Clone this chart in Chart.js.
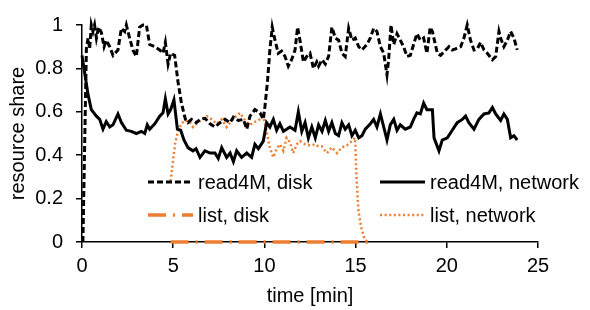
<!DOCTYPE html>
<html>
<head>
<meta charset="utf-8">
<script src="https://cdn.jsdelivr.net/npm/chart.js@4.4.1/dist/chart.umd.min.js"></script>
<style>
  html, body { margin: 0; padding: 0; background: #fff; }
  #wrap { width: 590px; height: 310px; }
</style>
</head>
<body>
<div id="wrap"><canvas id="chart" width="590" height="310"></canvas></div>
<script>
// time in minutes, share 0..1
const diskTime = [0.05, 0.24, 0.33, 0.42, 0.51, 0.60, 0.69, 0.79, 0.91, 1.06, 1.21, 1.33, 1.52, 1.70, 1.97,
  2.16, 2.34, 2.43, 2.61, 2.79, 2.98, 3.16, 3.34, 3.53, 3.71, 3.99, 4.26, 4.44, 4.57, 4.72, 4.86, 5.08,
  5.26, 5.45, 5.67, 5.81, 6.00, 6.27, 6.47, 6.74, 7.02, 7.29, 7.57, 7.84, 8.12, 8.30, 8.57, 8.85, 9.03,
  9.21, 9.48, 9.76, 9.94, 10.03, 10.17, 10.30, 10.43, 10.58, 10.76, 10.94, 11.13, 11.31, 11.49, 11.68,
  11.82, 11.95, 12.14, 12.32, 12.50, 12.69, 12.87, 12.97, 13.16, 13.34, 13.52, 13.70, 13.89, 14.07,
  14.25, 14.43, 14.62, 14.80, 14.98, 15.17, 15.35, 15.62, 15.81, 15.99, 16.17, 16.36, 16.54, 16.72,
  16.81, 16.94, 17.09, 17.27, 17.45, 17.63, 17.82, 18.00, 18.18, 18.36, 18.55, 18.73, 18.91, 19.09,
  19.21, 19.48, 19.66, 19.94, 20.12, 20.30, 20.48, 20.76, 20.94, 21.12, 21.30, 21.49, 21.67, 21.85,
  22.04, 22.22, 22.50, 22.68, 22.86, 22.95, 23.13, 23.32, 23.50, 23.68, 23.86];
const diskShare = [0.0, 0.89, 0.94, 0.89, 1.0, 0.97, 1.0, 0.94, 0.99, 0.965, 0.90, 0.93, 0.90, 0.86, 0.885,
  0.985, 0.97, 1.0, 0.94, 0.885, 0.855, 0.99, 1.0, 1.0, 0.91, 0.90, 0.885, 0.87, 0.92, 0.82, 0.87, 0.86,
  0.74, 0.64, 0.565, 0.55, 0.565, 0.55, 0.565, 0.57, 0.545, 0.53, 0.55, 0.565, 0.55, 0.575, 0.56, 0.565, 0.52,
  0.58, 0.61, 0.595, 0.565, 0.625, 0.74, 0.885, 0.99, 0.93, 0.87, 0.88, 0.855, 0.81, 0.84, 0.885,
  0.99, 0.93, 0.83, 0.855, 0.87, 0.80, 0.83, 0.81, 0.84, 0.82, 0.855, 0.99, 0.94, 0.93,
  0.87, 0.855, 0.985, 0.93, 0.94, 0.90, 0.885, 0.91, 0.94, 0.985, 0.97, 0.90, 0.87, 0.77,
  0.84, 1.0, 0.91, 0.96, 0.93, 0.90, 0.855, 0.86, 0.91, 0.96, 0.93, 0.94, 0.87, 0.99,
  0.97, 0.87, 0.86, 0.885, 0.90, 0.885, 0.89, 0.90, 0.94, 1.0, 0.93, 0.885, 0.89, 0.92,
  0.885, 0.87, 0.84, 0.855, 0.97, 0.94, 0.90, 0.93, 0.97, 0.94, 0.885];

const netTime = [0.00, 0.33, 0.51, 0.79, 0.97, 1.15, 1.33, 1.52, 1.70, 1.97, 2.16, 2.43, 2.70, 2.98, 3.25,
  3.44, 3.58, 3.71, 3.99, 4.26, 4.44, 4.57, 4.72, 4.86, 5.04, 5.23, 5.41, 5.59, 5.81, 6.08, 6.25, 6.47,
  6.74, 7.02, 7.29, 7.47, 7.66, 7.93, 8.12, 8.30, 8.48, 8.75, 9.03, 9.30, 9.48, 9.67, 9.94, 10.12,
  10.30, 10.49, 10.67, 10.85, 11.04, 11.22, 11.40, 11.68, 11.86, 12.05, 12.23, 12.41, 12.60, 12.79,
  12.97, 13.16, 13.34, 13.52, 13.70, 13.89, 14.07, 14.25, 14.43, 14.62, 14.80, 14.98, 15.17, 15.35,
  15.53, 15.81, 15.99, 16.17, 16.36, 16.54, 16.72, 16.90, 17.09, 17.27, 17.45, 17.72, 18.00, 18.18,
  18.36, 18.55, 18.73, 18.91, 19.09, 19.21, 19.30, 19.57, 19.75, 20.03, 20.30, 20.57, 20.85, 21.03,
  21.21, 21.49, 21.76, 22.04, 22.31, 22.50, 22.68, 22.95, 23.13, 23.32, 23.50, 23.68, 23.86];
const netShare = [0.86, 0.68, 0.61, 0.58, 0.565, 0.52, 0.555, 0.53, 0.54, 0.59, 0.55, 0.515, 0.51, 0.50, 0.51,
  0.50, 0.54, 0.52, 0.545, 0.58, 0.595, 0.66, 0.59, 0.61, 0.655, 0.52, 0.515, 0.47, 0.435, 0.42, 0.43, 0.39,
  0.42, 0.41, 0.41, 0.385, 0.435, 0.39, 0.41, 0.37, 0.42, 0.39, 0.41, 0.39, 0.45, 0.43, 0.465, 0.55,
  0.53, 0.565, 0.515, 0.545, 0.51, 0.52, 0.53, 0.515, 0.60, 0.51, 0.55, 0.48, 0.53, 0.48,
  0.54, 0.51, 0.56, 0.51, 0.55, 0.50, 0.49, 0.55, 0.52, 0.54, 0.49, 0.515, 0.48, 0.49,
  0.52, 0.545, 0.565, 0.53, 0.59, 0.53, 0.47, 0.54, 0.565, 0.515, 0.54, 0.52, 0.53, 0.565,
  0.595, 0.59, 0.64, 0.61, 0.61, 0.61, 0.48, 0.42, 0.47, 0.48, 0.515, 0.55, 0.565, 0.58,
  0.55, 0.52, 0.565, 0.59, 0.595, 0.62, 0.59, 0.56, 0.59, 0.565, 0.48, 0.49, 0.47];

const listTime = [4.86, 4.97, 5.10, 5.26, 5.45, 5.63, 5.90, 6.08, 6.27, 6.56, 6.84, 7.11, 7.38, 7.66, 7.93,
  8.12, 8.39, 8.66, 8.94, 9.21, 9.39, 9.67, 9.94, 10.12, 10.30, 10.49, 10.67, 10.85, 11.04, 11.22, 11.40,
  11.58, 11.77, 11.95, 12.23, 12.50, 12.78, 12.97, 13.16, 13.43, 13.70, 13.98, 14.25, 14.52, 14.80,
  14.97, 15.05, 15.15, 15.30, 15.50, 15.70];
const listNetShare = [0.28, 0.36, 0.45, 0.51, 0.545, 0.56, 0.555, 0.53, 0.545, 0.565, 0.58, 0.565, 0.545, 0.565, 0.53,
  0.55, 0.575, 0.595, 0.56, 0.54, 0.55, 0.56, 0.58, 0.51, 0.435, 0.39, 0.43, 0.45, 0.42, 0.48, 0.46,
  0.41, 0.45, 0.465, 0.45, 0.445, 0.45, 0.44, 0.44, 0.41, 0.436, 0.41, 0.436, 0.445, 0.465,
  0.48, 0.30, 0.15, 0.07, 0.01, 0.0];
const listDiskShare = [0, 0, 0, 0, 0, 0, 0, 0, 0, 0, 0, 0, 0, 0, 0,
  0, 0, 0, 0, 0, 0, 0, 0, 0, 0, 0, 0, 0, 0, 0, 0,
  0, 0, 0, 0, 0, 0, 0, 0, 0, 0, 0, 0, 0, 0,
  0, 0, 0, 0, 0, 0];

const xTicks = [0, 5, 10, 15, 20, 25];
const yTicks = [0, 0.2, 0.4, 0.6, 0.8, 1];

const FONT = { family: '"Liberation Sans", Arial, Helvetica, sans-serif', size: 20 };
const ORANGE = '#ED7D31';

function pairs(xs, ys) {
  return xs.map((x, i) => ({ x: x, y: ys[i] }));
}

// legend sits inside the plot, two columns, no box
const insideLegend = {
  id: 'insideLegend',
  afterDatasetsDraw(chart) {
    const ctx = chart.ctx;
    const slots = [[148, 182], [380, 182], [148, 215], [380, 215]];
    chart.data.datasets.forEach((ds, i) => {
      const x = slots[i][0], y = slots[i][1];
      ctx.save();
      ctx.strokeStyle = ds.borderColor;
      ctx.lineWidth = ds.borderWidth;
      ctx.setLineDash(ds.borderDash || []);
      ctx.beginPath();
      ctx.moveTo(x, y);
      ctx.lineTo(x + 45, y);
      ctx.stroke();
      ctx.setLineDash([]);
      ctx.fillStyle = '#000';
      ctx.font = FONT.size + 'px ' + FONT.family;
      ctx.textBaseline = 'middle';
      ctx.fillText(ds.label, x + 50, y + 1);
      ctx.restore();
    });
  }
};

const lineBase = { pointRadius: 0, tension: 0, fill: false, clip: false };

new Chart(document.getElementById('chart'), {
  type: 'line',
  data: {
    datasets: [
      Object.assign({ label: 'read4M, disk', data: pairs(diskTime, diskShare),
        borderColor: '#000', borderWidth: 3, borderDash: [6, 3] }, lineBase),
      Object.assign({ label: 'read4M, network', data: pairs(netTime, netShare),
        borderColor: '#000', borderWidth: 3 }, lineBase),
      Object.assign({ label: 'list, disk', data: pairs(listTime, listDiskShare),
        borderColor: ORANGE, borderWidth: 3.5, borderDash: [18, 7, 2, 7] }, lineBase),
      Object.assign({ label: 'list, network', data: pairs(listTime, listNetShare),
        borderColor: ORANGE, borderWidth: 2.5, borderDash: [2, 2.6] }, lineBase)
    ]
  },
  options: {
    responsive: false,
    animation: false,
    layout: { padding: { left: 0, top: 12, right: 52, bottom: 0 } },
    plugins: { legend: { display: false }, tooltip: { enabled: false } },
    scales: {
      x: {
        type: 'linear',
        min: xTicks[0],
        max: xTicks[xTicks.length - 1],
        afterBuildTicks: s => { s.ticks = xTicks.map(v => ({ value: v })); },
        afterFit: s => { s.height = 68; },
        ticks: { color: '#000', font: FONT, padding: 6, maxRotation: 0, callback: v => String(v) },
        grid: { drawOnChartArea: false, color: '#000', lineWidth: 1.5, tickLength: 6 },
        border: { color: '#000', width: 1.5 },
        title: { display: true, text: 'time [min]', color: '#000', font: FONT, padding: { top: 0, bottom: 2 } }
      },
      y: {
        min: yTicks[0],
        max: yTicks[yTicks.length - 1],
        afterBuildTicks: s => { s.ticks = yTicks.map(v => ({ value: v })); },
        afterFit: s => { s.width = 82; },
        ticks: { color: '#000', font: FONT, padding: 13, callback: v => String(Math.round(v * 10) / 10) },
        grid: { drawOnChartArea: false, color: '#000', lineWidth: 1.5, tickLength: 6 },
        border: { color: '#000', width: 1.5 },
        title: { display: true, text: 'resource share', color: '#000', font: FONT, padding: { top: 6, bottom: 0 } }
      }
    }
  },
  plugins: [insideLegend]
});
</script>
</body>
</html>
